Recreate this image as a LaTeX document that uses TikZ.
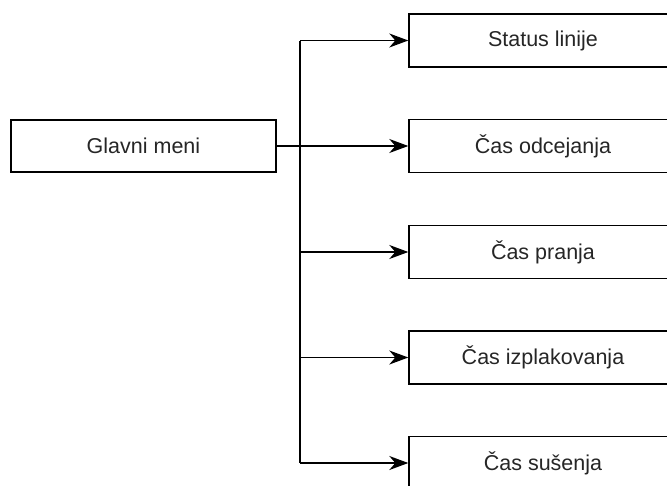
\documentclass[tikz,border=0pt]{standalone}
\usepackage{fontspec}
\setmainfont{Liberation Sans}
\usetikzlibrary{arrows.meta}
\begin{document}
\begin{tikzpicture}[x=1pt,y=-1pt,
  box/.style={draw=black, line width=1.4pt, fill=white, minimum height=53pt, inner sep=0pt, font=\fontsize{21.5}{24}\selectfont, text=black!85},
  sub/.style={box, minimum width=268pt},
  conn/.style={line width=1.5pt, draw=black},
  arr/.style={conn, -{Stealth[length=19pt,width=14pt,inset=6pt]}}]
\useasboundingbox (0,0) rectangle (667,485);
\clip (0,0) rectangle (667,485);
\fill[white] (0,0) rectangle (667,485);
\node[box, minimum width=265pt, minimum height=52pt] (main) at (143.5,146) {Glavni meni};
\node[sub] (s1) at (543,40.5) {Status linije};
\node[sub] (s2) at (543,146) {Čas odcejanja};
\node[sub] (s3) at (543,252) {Čas pranja};
\node[sub] (s4) at (543,357.5) {Čas izplakovanja};
\node[sub] (s5) at (543,463) {Čas sušenja};
\coordinate (top) at (300,40.5);
\coordinate (bot) at (300,463);
\draw[conn] (top) -- (bot);
\draw[arr] (main.east) -- (s2.west);
\foreach \n in {s1,s3,s4,s5} {
  \draw[arr] (top |- \n.west) -- (\n.west);
}
\end{tikzpicture}
\end{document}
